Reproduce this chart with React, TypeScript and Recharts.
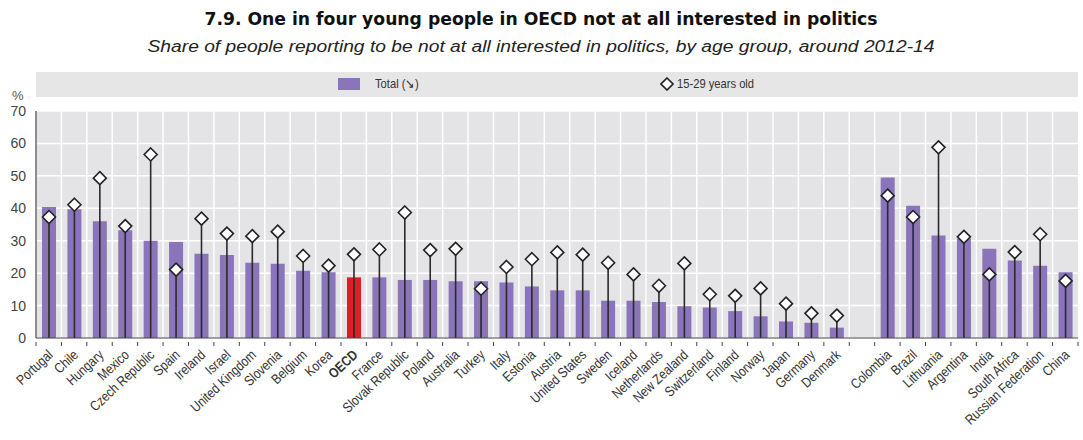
import { ComposedChart, Bar, XAxis, YAxis, CartesianGrid, Cell } from 'recharts';

const countries = [
  'Portugal', 'Chile', 'Hungary', 'Mexico', 'Czech Republic', 'Spain', 'Ireland', 'Israel',
  'United Kingdom', 'Slovenia', 'Belgium', 'Korea', 'OECD', 'France', 'Slovak Republic', 'Poland',
  'Australia', 'Turkey', 'Italy', 'Estonia', 'Austria', 'United States', 'Sweden', 'Iceland',
  'Netherlands', 'New Zealand', 'Switzerland', 'Finland', 'Norway', 'Japan', 'Germany', 'Denmark',
  '', 'Colombia', 'Brazil', 'Lithuania', 'Argentina', 'India', 'South Africa', 'Russian Federation', 'China',
];

// Total, all ages (%)
const totals = [
  40.4, 39.7, 36.0, 33.2, 30.0, 29.6, 26.0, 25.6, 23.2, 22.9, 20.7, 20.3, 18.7, 18.7, 17.9, 17.9,
  17.5, 17.5, 17.1, 15.9, 14.7, 14.7, 11.5, 11.5, 11.1, 9.8, 9.4, 8.3, 6.7, 5.1, 4.7, 3.2,
  null, 49.5, 40.8, 31.6, 30.7, 27.5, 23.9, 22.3, 20.3,
];

// 15-29 years old (%)
const young = [
  37.3, 41.1, 49.3, 34.5, 56.6, 21.1, 36.8, 32.2, 31.4, 32.8, 25.3, 22.3, 25.8, 27.3, 38.7, 27.1,
  27.5, 15.2, 21.9, 24.3, 26.4, 25.7, 23.2, 19.6, 16.1, 23.0, 13.5, 13.0, 15.3, 10.6, 7.6, 6.9,
  null, 43.9, 37.3, 58.8, 31.2, 19.6, 26.5, 32.0, 17.6,
];

const yTicks = [0, 10, 20, 30, 40, 50, 60, 70];

const data = countries.map((name, i) => ({ name, total: totals[i], young: young[i] }));

const BAR = '#8a74ba';
const OECD_RED = '#dc1f26';
const PLOT_BG = '#e4e4e6';
const SANS = "'Liberation Sans', Arial, sans-serif";

const W = 1083;
const H = 440;
const LEFT = 36;
const RIGHT = 5;
const TOP = 111;
const XAXIS_H = 102;
const SLOT = (W - LEFT - RIGHT) / countries.length;

// stem from zero up to the young-people value, diamond on top
function StemDiamond(props: any) {
  const { x, y, width, height } = props;
  if (x == null || y == null || !height) return null;
  const cx = x + width / 2;
  const r = 6.5;
  return (
    <g>
      <line x1={cx} x2={cx} y1={y + height} y2={y} stroke="#2a2a2a" strokeWidth={1.6} />
      <path
        d={`M ${cx} ${y - r} L ${cx + r} ${y} L ${cx} ${y + r} L ${cx - r} ${y} Z`}
        fill="#fff"
        stroke="#222"
        strokeWidth={1.6}
      />
    </g>
  );
}

function CountryTick(props: any) {
  const { x, y, payload } = props;
  const label = payload.value as string;
  const bold = label === 'OECD';
  return (
    <g>
      <line x1={x - SLOT / 2} x2={x - SLOT / 2} y1={y - 4} y2={y} stroke="#444" strokeWidth={1} />
      {payload.index === countries.length - 1 && (
        <line x1={x + SLOT / 2} x2={x + SLOT / 2} y1={y - 4} y2={y} stroke="#444" strokeWidth={1} />
      )}
      <text
        transform={`translate(${x + 5}, ${y + 10}) rotate(-43) scale(0.84, 1)`}
        textAnchor="end"
        fontFamily={SANS}
        fontSize={14}
        fontWeight={bold ? 700 : 400}
        fill="#333"
      >
        {label}
      </text>
    </g>
  );
}

export default function App() {
  return (
    <div style={{ position: 'absolute', left: 0, top: 0, width: W, height: H, background: '#fff' }}>
      <svg width={W} height={64} style={{ position: 'absolute', left: 0, top: 0 }}>
        <text
          x={541}
          y={25}
          textAnchor="middle"
          fontFamily="'DejaVu Sans Condensed', 'DejaVu Sans', sans-serif"
          fontWeight={700}
          fontSize={17}
          fill="#111"
          textLength={673}
          lengthAdjust="spacingAndGlyphs"
        >
          7.9.  One in four young people in OECD not at all interested in politics
        </text>
        <text
          x={541}
          y={52}
          textAnchor="middle"
          fontFamily={SANS}
          fontStyle="italic"
          fontSize={16}
          fill="#222"
          textLength={787}
          lengthAdjust="spacingAndGlyphs"
        >
          Share of people reporting to be not at all interested in politics, by age group, around 2012-14
        </text>
      </svg>

      {/* legend band */}
      <div
        style={{
          position: 'absolute', left: LEFT, top: 72, width: W - LEFT - RIGHT, height: 25,
          background: '#e6e6e7', fontFamily: SANS, fontSize: 13, color: '#333',
        }}
      >
        <div style={{ position: 'absolute', left: 302, top: 6, width: 22, height: 12, background: BAR }} />
        <div style={{ position: 'absolute', left: 339, top: 4, transform: 'scaleX(0.86)', transformOrigin: 'left' }}>
          Total (↘)
        </div>
        <svg width={14} height={14} style={{ position: 'absolute', left: 624, top: 5 }}>
          <path d="M 7 1 L 13 7 L 7 13 L 1 7 Z" fill="#fff" stroke="#222" strokeWidth={1.6} />
        </svg>
        <div
          style={{ position: 'absolute', left: 641, top: 4, transform: 'scaleX(0.86)', transformOrigin: 'left', whiteSpace: 'nowrap' }}
        >
          15-29 years old
        </div>
      </div>

      <div style={{ position: 'absolute', left: 12, top: 88, fontFamily: SANS, fontSize: 13, color: '#555' }}>%</div>

      <ComposedChart
        width={W}
        height={H}
        data={data}
        margin={{ top: TOP, right: RIGHT, bottom: 0, left: 0 }}
        barCategoryGap={0}
        style={{ position: 'absolute', left: 0, top: 0 }}
      >
        <CartesianGrid
          fill={PLOT_BG}
          stroke="#fff"
          strokeWidth={1.5}
          verticalCoordinatesGenerator={({ offset }: any) =>
            countries.map((_, i) => offset.left + (i * offset.width) / countries.length)
          }
        />
        <XAxis
          dataKey="name"
          interval={0}
          height={XAXIS_H}
          tick={<CountryTick />}
          tickLine={false}
          axisLine={{ stroke: '#444', strokeWidth: 1.2 }}
        />
        <XAxis xAxisId="b" dataKey="name" hide />
        <YAxis
          domain={[0, 70]}
          ticks={yTicks}
          width={LEFT}
          tickLine={false}
          tickSize={0}
          tickMargin={10}
          axisLine={{ stroke: '#444', strokeWidth: 1.2 }}
          tick={{ fontFamily: SANS, fontSize: 14, fill: '#444' }}
        />
        <Bar dataKey="total" barSize={14} isAnimationActive={false}>
          {data.map((d, i) => (
            <Cell key={i} fill={d.name === 'OECD' ? OECD_RED : BAR} />
          ))}
        </Bar>
        <Bar
          xAxisId="b"
          dataKey="young"
          barSize={14}
          fill="none"
          shape={<StemDiamond />}
          isAnimationActive={false}
        />
      </ComposedChart>
    </div>
  );
}
